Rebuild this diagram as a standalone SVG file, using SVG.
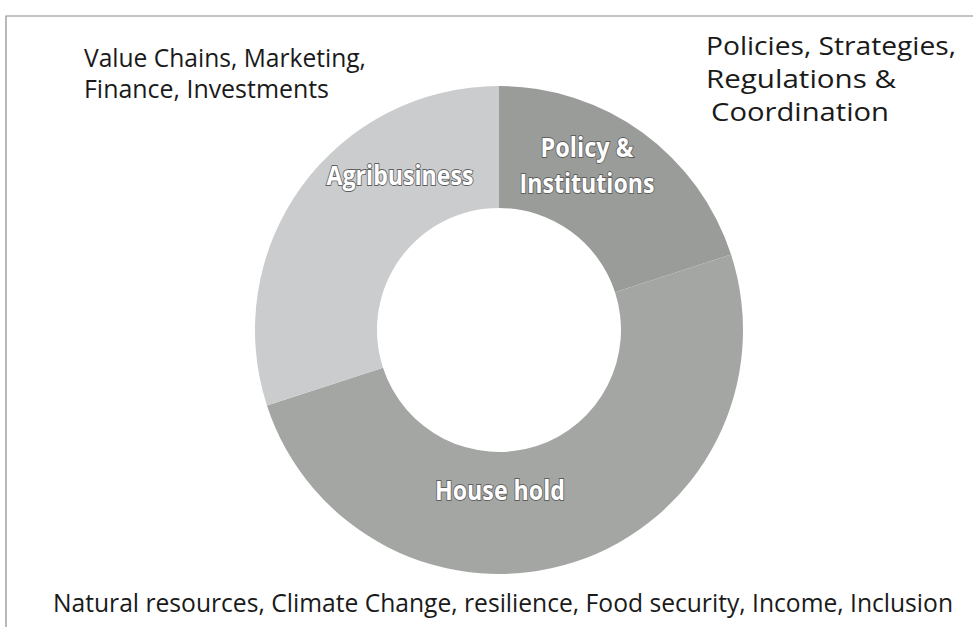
<svg xmlns="http://www.w3.org/2000/svg" width="973" height="627" viewBox="0 0 973 627">
  <style>
    .note { font-family: "Open Sans", "Liberation Sans", sans-serif; font-size: 25px; fill: #1a1a1a; }
    .seg-label { font-family: "Open Sans", "Liberation Sans", sans-serif; font-weight: bold; font-size: 26px; fill: #ffffff; stroke: #5f5f5f; stroke-width: 1.8px; paint-order: stroke; text-anchor: middle; }
    .frame { stroke: #8a8a8a; stroke-width: 1.2; fill: none; }
  </style>
  <rect width="973" height="627" fill="#ffffff"/>

  <!-- page frame -->
  <path class="frame" d="M6,627 L6,16 L973,16"/>

  <!-- donut chart: centre (499,330), outer radius 244, inner radius 122 -->
  <g id="policy-institutions">
    <path d="M499,86 A244,244 0 0 1 731.07,254.60 L615.03,292.30 A122,122 0 0 0 499,208 Z" fill="#9a9c9a"/>
    <text class="seg-label" x="587" y="157" textLength="93" lengthAdjust="spacingAndGlyphs">Policy &amp;</text>
    <text class="seg-label" x="587" y="193" textLength="135" lengthAdjust="spacingAndGlyphs">Institutions</text>
  </g>
  <g id="household">
    <path d="M731.07,254.60 A244,244 0 0 1 266.93,405.40 L382.97,367.70 A122,122 0 0 0 615.03,292.30 Z" fill="#a4a6a4"/>
    <text class="seg-label" x="500" y="500" textLength="130" lengthAdjust="spacingAndGlyphs">House hold</text>
  </g>
  <g id="agribusiness">
    <path d="M266.93,405.40 A244,244 0 0 1 499,86 L499,208 A122,122 0 0 0 382.97,367.70 Z" fill="#cacccd"/>
    <text class="seg-label" x="400" y="185" textLength="147" lengthAdjust="spacingAndGlyphs">Agribusiness</text>
  </g>

  <!-- surrounding notes -->
  <g id="notes-agribusiness">
    <text class="note" x="84" y="67" textLength="282" lengthAdjust="spacingAndGlyphs">Value Chains, Marketing,</text>
    <text class="note" x="84" y="98" textLength="245" lengthAdjust="spacingAndGlyphs">Finance, Investments</text>
  </g>
  <g id="notes-policy">
    <text class="note" x="706" y="55" textLength="250" lengthAdjust="spacingAndGlyphs">Policies,  Strategies,</text>
    <text class="note" x="706" y="88" textLength="190" lengthAdjust="spacingAndGlyphs">Regulations  &amp;</text>
    <text class="note" x="711" y="121" textLength="178" lengthAdjust="spacingAndGlyphs">Coordination</text>
  </g>
  <g id="notes-household">
    <text class="note" x="53" y="612" textLength="900" lengthAdjust="spacingAndGlyphs">Natural resources, Climate Change, resilience,  Food security, Income, Inclusion</text>
  </g>
</svg>
